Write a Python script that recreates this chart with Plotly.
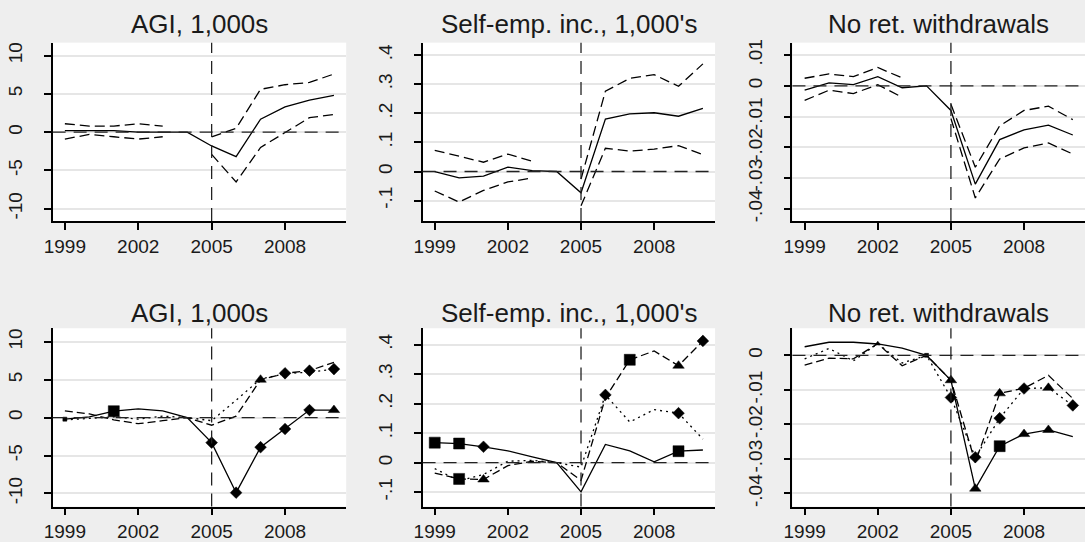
import plotly.graph_objects as go

# ---------------- data ----------------
years = list(range(1999, 2011))
x_tick_years = [1999, 2002, 2005, 2008]
event_year = 2005

titles = ["AGI, 1,000s", "Self-emp. inc., 1,000's", "No ret. withdrawals"]

# Top row: point estimate with upper / lower confidence bounds
agi_est = [0.2, 0.2, 0.2, 0.0, 0.0, 0.0, -1.8, -3.2, 1.7, 3.3, 4.2, 4.8]
agi_hi = [1.1, 0.8, 0.8, 1.1, 0.8, None, -0.6, 0.5, 5.6, 6.2, 6.5, 7.6]
agi_lo = [-0.9, -0.3, -0.6, -0.9, -0.6, None, -2.9, -6.5, -2.0, 0.0, 1.9, 2.3]

se_est = [0.0, -0.022, -0.016, 0.015, 0.003, 0.0, -0.073, 0.18, 0.198, 0.202, 0.19, 0.217]
se_hi = [0.073, 0.052, 0.032, 0.06, 0.035, None, -0.026, 0.276, 0.32, 0.333, 0.293, 0.37]
se_lo = [-0.067, -0.105, -0.065, -0.036, -0.022, None, -0.118, 0.08, 0.07, 0.077, 0.089, 0.058]

rw_est = [-0.0014, 0.001, 0.0004, 0.003, -0.0006, 0.0, -0.008, -0.032, -0.0175, -0.0143, -0.0128, -0.016]
rw_hi = [0.0025, 0.0039, 0.003, 0.006, 0.0026, None, -0.006, -0.0265, -0.013, -0.008, -0.0066, -0.011]
rw_lo = [-0.0047, -0.0014, -0.0025, 0.0004, -0.0037, None, -0.0106, -0.0365, -0.0238, -0.0202, -0.0186, -0.0222]

# Bottom row: three specifications (solid, dashed, dotted) with point markers
# marker codes: S big square, s small square, D diamond, T triangle, t small triangle, "" none
agi_solid = [-0.2, 0.1, 0.85, 1.15, 0.9, 0.0, -3.3, -9.9, -3.9, -1.5, 1.0, 1.0]
agi_solid_mk = ["s", "", "S", "", "", "", "D", "D", "D", "D", "D", "T"]
agi_dash = [0.9, 0.5, -0.3, -0.8, -0.4, 0.0, -1.0, 0.2, 5.0, 5.85, 6.2, 7.3]
agi_dash_mk = ["", "", "", "", "", "", "", "", "T", "D", "D", ""]
agi_dot = [-0.3, -0.1, 0.1, -0.2, 0.2, 0.0, -0.4, 2.3, 5.1, 5.8, 6.0, 6.4]
agi_dot_mk = ["", "", "", "", "", "", "", "", "", "", "", "D"]

se_solid = [0.068, 0.065, 0.054, 0.04, 0.02, 0.0, -0.099, 0.062, 0.04, 0.003, 0.039, 0.043]
se_solid_mk = ["S", "S", "D", "", "", "", "", "", "", "", "S", ""]
se_dash = [-0.035, -0.055, -0.057, -0.01, 0.005, 0.0, -0.06, 0.22, 0.349, 0.379, 0.329, 0.413]
se_dash_mk = ["", "S", "T", "", "", "", "", "", "S", "", "T", "D"]
se_dot = [-0.02, -0.062, -0.04, 0.005, 0.008, 0.0, -0.015, 0.23, 0.138, 0.18, 0.168, 0.08]
se_dot_mk = ["", "", "", "", "", "", "", "D", "", "", "D", ""]

rw_solid = [0.0025, 0.0038, 0.0038, 0.0033, 0.0021, 0.0, -0.0072, -0.0386, -0.0263, -0.0228, -0.0216, -0.0235]
rw_solid_mk = ["", "", "", "", "", "s", "T", "T", "S", "T", "T", ""]
rw_dash = [-0.0028, -0.0008, -0.001, 0.0034, -0.003, 0.0, -0.0072, -0.031, -0.011, -0.0095, -0.0058, -0.0125]
rw_dash_mk = ["", "", "", "t", "", "", "", "", "T", "", "", ""]
rw_dot = [-0.001, 0.002, -0.0016, 0.0034, -0.0022, 0.0, -0.0122, -0.0295, -0.0182, -0.0096, -0.0094, -0.0145]
rw_dot_mk = ["", "", "", "", "", "", "D", "D", "D", "D", "T", "D"]

# tick values / labels
agi_ticks = [-10, -5, 0, 5, 10]
agi_ticklabels = ["-10", "-5", "0", "5", "10"]
se_ticks = [-0.1, 0, 0.1, 0.2, 0.3, 0.4]
se_ticklabels = ["-.1", "0", ".1", ".2", ".3", ".4"]
rw_ticks_top = [-0.04, -0.03, -0.02, -0.01, 0, 0.01]
rw_ticklabels_top = ["-.04", "-.03", "-.02", "-.01", "0", ".01"]
rw_ticks_bot = [-0.04, -0.03, -0.02, -0.01, 0]
rw_ticklabels_bot = ["-.04", "-.03", "-.02", "-.01", "0"]

# ---------------- style ----------------
W, H = 1085, 542
FONT = "Liberation Sans, Arial, sans-serif"
TXT = "#1a1a1a"
MK = {"S": ("square", 11), "s": ("square", 4), "D": ("diamond", 9),
      "T": ("triangle-up", 10), "t": ("triangle-up", 5)}
CI_DASH = "10px,5px"
SPEC_DASH = {"solid": "solid", "dash": "8px,4px", "dot": "2px,4px"}
REF_DASH = "13px,8px"

col_px = [(44, 340), (417, 712), (790, 1085)]
row_px = [(40, 220), (328.3, 508.3)]
x_range = [1998.5, 2010.5]
y_ranges = [[-11.6, 11.7], [-0.170, 0.443], [-0.044, 0.0141],
            [-11.74, 11.79], [-0.149, 0.456], [-0.0438, 0.00785]]
yticks = [(agi_ticks, agi_ticklabels), (se_ticks, se_ticklabels), (rw_ticks_top, rw_ticklabels_top),
          (agi_ticks, agi_ticklabels), (se_ticks, se_ticklabels), (rw_ticks_bot, rw_ticklabels_bot)]

top_data = [(agi_est, agi_hi, agi_lo), (se_est, se_hi, se_lo), (rw_est, rw_hi, rw_lo)]
bot_data = [
    [(agi_solid, agi_solid_mk, "solid"), (agi_dash, agi_dash_mk, "dash"), (agi_dot, agi_dot_mk, "dot")],
    [(se_solid, se_solid_mk, "solid"), (se_dash, se_dash_mk, "dash"), (se_dot, se_dot_mk, "dot")],
    [(rw_solid, rw_solid_mk, "solid"), (rw_dash, rw_dash_mk, "dash"), (rw_dot, rw_dot_mk, "dot")],
]

fig = go.Figure()
layout = {}
shapes = []
annotations = []

for r in range(2):
    for c in range(3):
        k = r * 3 + c + 1
        xa = "x" if k == 1 else f"x{k}"
        ya = "y" if k == 1 else f"y{k}"
        xkey = "xaxis" if k == 1 else f"xaxis{k}"
        ykey = "yaxis" if k == 1 else f"yaxis{k}"
        x0p, x1p = col_px[c]
        t0p, t1p = row_px[r]
        layout[xkey] = dict(
            domain=[x0p / W, min(x1p / W, 1.0)], range=x_range, anchor=ya,
            tickvals=x_tick_years, ticks="outside", ticklen=7, tickwidth=1.5,
            tickcolor="black", showline=True, linecolor="black", linewidth=1.5,
            showgrid=False, zeroline=False,
            tickfont=dict(family=FONT, size=19, color=TXT),
        )
        tv, tt = yticks[k - 1]
        layout[ykey] = dict(
            domain=[1 - t1p / H, 1 - t0p / H], range=y_ranges[k - 1], anchor=xa,
            tickvals=tv, ticktext=tt, tickangle=-90, ticks="outside", ticklen=7,
            tickwidth=1.5, tickcolor="black", showline=True, linecolor="black",
            linewidth=1.5, showgrid=True, gridcolor="#e6e6e6", gridwidth=1.5,
            zeroline=False, ticklabelstandoff=14,
            tickfont=dict(family=FONT, size=19, color=TXT),
        )
        # reference lines
        shapes.append(dict(type="line", xref=xa, yref=f"{ya} domain", x0=event_year, x1=event_year,
                           y0=0, y1=1, line=dict(color="#222", width=1.3, dash=REF_DASH)))
        shapes.append(dict(type="line", xref=f"{xa} domain", yref=ya, x0=0, x1=1, y0=0, y1=0,
                           line=dict(color="#222", width=1.3, dash=REF_DASH)))
        # title
        annotations.append(dict(text=titles[c], xref="paper", yref="paper",
                                x=(x0p + x1p) / 2 / W,
                                y=1 - (21.7 if r == 0 else 312.7) / H,
                                xanchor="center", yanchor="middle", showarrow=False,
                                font=dict(family=FONT, size=26, color=TXT)))
        if r == 0:
            est, hi, lo = top_data[c]
            for vals, dash in [(hi, CI_DASH), (lo, CI_DASH), (est, "solid")]:
                fig.add_trace(go.Scatter(x=years, y=vals, mode="lines", xaxis=xa, yaxis=ya,
                                         connectgaps=False, showlegend=False,
                                         line=dict(color="black", width=1.3, dash=dash)))
        else:
            for vals, mks, style in bot_data[c]:
                fig.add_trace(go.Scatter(x=years, y=vals, mode="lines", xaxis=xa, yaxis=ya,
                                         showlegend=False,
                                         line=dict(color="black", width=1.3, dash=SPEC_DASH[style])))
                idx = [i for i, m in enumerate(mks) if m]
                fig.add_trace(go.Scatter(
                    x=[years[i] for i in idx], y=[vals[i] for i in idx], mode="markers",
                    xaxis=xa, yaxis=ya, showlegend=False,
                    marker=dict(color="black", opacity=1, symbol=[MK[mks[i]][0] for i in idx],
                                size=[MK[mks[i]][1] for i in idx],
                                line=dict(width=0.5, color="black"))))

fig.update_layout(
    width=W, height=H, margin=dict(l=0, r=0, t=0, b=0),
    paper_bgcolor="#eeeeee", plot_bgcolor="white",
    shapes=shapes, annotations=annotations, **layout,
)

fig.write_html("out.html", config={"displayModeBar": False},
               post_script="document.body.style.margin='0';")
